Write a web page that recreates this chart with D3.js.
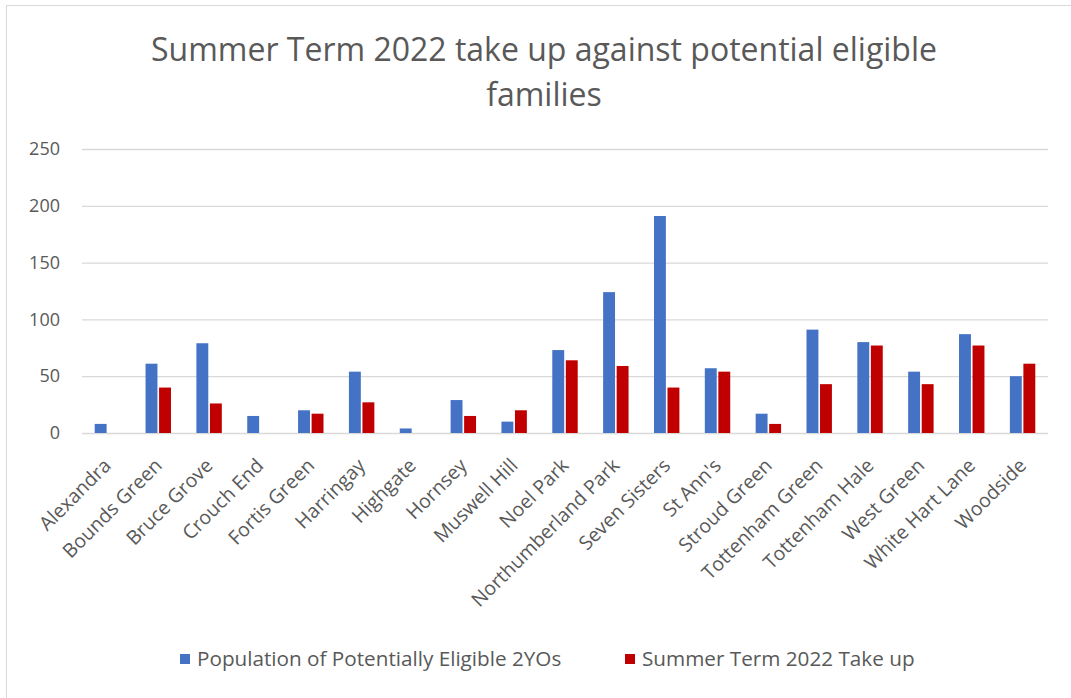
<!DOCTYPE html>
<html>
<head>
<meta charset="utf-8">
<script src="https://cdn.jsdelivr.net/npm/d3@7"></script>
<style>
    body { margin: 0; background: #fff; }
    text { font-family: "Open Sans", "Noto Sans", sans-serif; fill: #595959; }
</style>
</head>
<body>
<script>
var wards = ["Alexandra", "Bounds Green", "Bruce Grove", "Crouch End", "Fortis Green",
    "Harringay", "Highgate", "Hornsey", "Muswell Hill", "Noel Park", "Northumberland Park",
    "Seven Sisters", "St Ann's", "Stroud Green", "Tottenham Green", "Tottenham Hale",
    "West Green", "White Hart Lane", "Woodside"];
var eligible = [8, 61, 79, 15, 20, 54, 4, 29, 10, 73, 124, 191, 57, 17, 91, 80, 54, 87, 50];
var takeUp = [0, 40, 26, 0, 17, 27, 0, 15, 20, 64, 59, 40, 54, 8, 43, 77, 43, 77, 61];
var seriesNames = ["Population of Potentially Eligible 2YOs", "Summer Term 2022 Take up"];
var seriesColors = ["#4472c4", "#c00000"];
var yTicks = [0, 50, 100, 150, 200, 250];
var titleLines = ["Summer Term 2022 take up against potential eligible", "families"];

var width = 1071, height = 698;
// plot area (note: "top" is reserved on window, so prefix these)
var plotLeft = 82, plotRight = 1048, plotTop = 149, plotBottom = 433;

var svg = d3.select("body").append("svg")
    .attr("width", width)
    .attr("height", height);

// chart frame
svg.append("rect")
    .attr("x", 6.5).attr("y", 5.5)
    .attr("width", width).attr("height", height)
    .attr("fill", "none")
    .attr("stroke", "#d9d9d9");

// title
svg.append("g").selectAll("text")
    .data(titleLines)
    .enter().append("text")
    .attr("x", 544)
    .attr("y", function (d, i) { return 61 + i * 45; })
    .attr("text-anchor", "middle")
    .style("font-size", "32px")
    .text(function (d) { return d; });

var data = wards.map(function (w, i) {
    return {ward: w, values: [eligible[i], takeUp[i]]};
});

var x0 = d3.scaleBand().domain(wards).range([plotLeft, plotRight]);
var bw = x0.bandwidth();
var x1 = d3.scaleBand().domain([0, 1]).range([bw * 0.25, bw * 0.75]).paddingInner(0.12);
var y = d3.scaleLinear().domain([0, 250]).range([plotBottom, plotTop]);

// gridlines + y labels
var yAxis = d3.axisLeft(y).tickValues(yTicks).tickSize(-(plotRight - plotLeft)).tickPadding(22);
svg.append("g")
    .attr("class", "y axis")
    .attr("transform", "translate(" + plotLeft + ",0)")
    .call(yAxis)
    .call(function (g) {
        g.select(".domain").remove();
        g.selectAll(".tick line").attr("stroke", "#d9d9d9").attr("stroke-width", 1.3);
        g.selectAll(".tick text").style("font-size", "18px").attr("fill", "#595959");
    });

// bars
var groups = svg.selectAll(".ward")
    .data(data)
    .enter().append("g")
    .attr("class", "ward")
    .attr("transform", function (d) { return "translate(" + x0(d.ward) + ",0)"; });

groups.selectAll("rect")
    .data(function (d) { return d.values; })
    .enter().append("rect")
    .attr("x", function (d, i) { return x1(i); })
    .attr("width", x1.bandwidth())
    .attr("y", function (d) { return y(d); })
    .attr("height", function (d) { return plotBottom - y(d); })
    .attr("fill", function (d, i) { return seriesColors[i]; });

// x labels, rotated
var xAxis = d3.axisBottom(x0).tickSize(0).tickPadding(0);
svg.append("g")
    .attr("class", "x axis")
    .attr("transform", "translate(0," + plotBottom + ")")
    .call(xAxis)
    .call(function (g) {
        g.select(".domain").remove();
        g.selectAll(".tick text")
            .style("font-size", "19.5px")
            .attr("fill", "#595959")
            .attr("text-anchor", "end")
            .attr("dy", "0.35em")
            .attr("transform", "translate(0,29) rotate(-45)");
    });

// legend
var legendX = [180, 625];
var legend = svg.selectAll(".legend")
    .data(seriesNames)
    .enter().append("g")
    .attr("class", "legend")
    .attr("transform", function (d, i) { return "translate(" + legendX[i] + ",659)"; });

legend.append("rect")
    .attr("x", 0).attr("y", -5)
    .attr("width", 10).attr("height", 10)
    .attr("fill", function (d, i) { return seriesColors[i]; });

legend.append("text")
    .attr("x", 17)
    .attr("dy", "0.35em")
    .style("font-size", "20.7px")
    .text(function (d) { return d; });
</script>
</body>
</html>
